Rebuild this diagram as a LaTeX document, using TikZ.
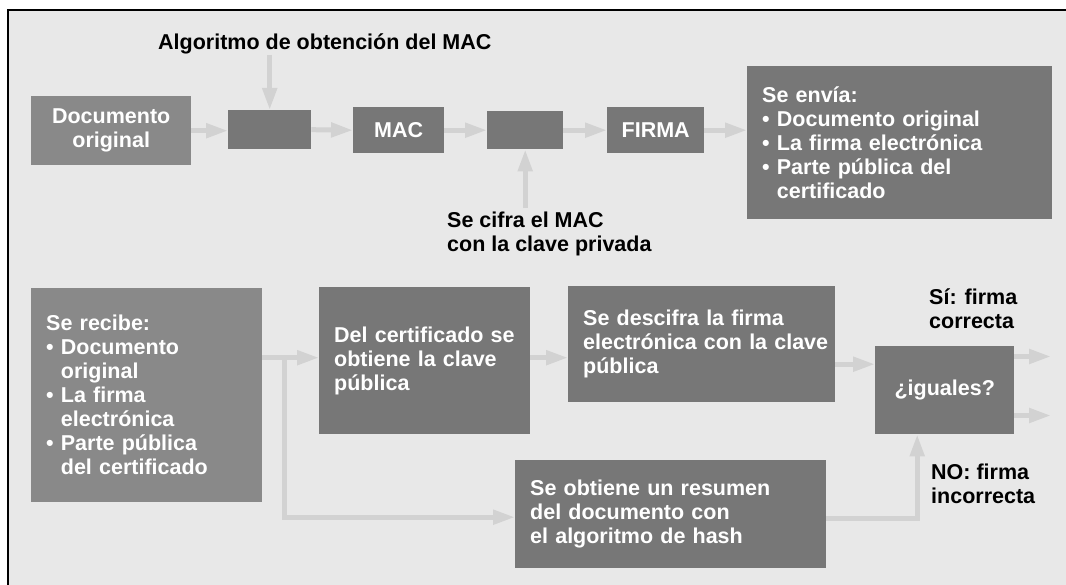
\documentclass[tikz,border=0pt]{standalone}
\usepackage{fontspec}
\setmainfont{Liberation Sans}
\usetikzlibrary{arrows.meta}
\definecolor{bgc}{HTML}{E8E8E8}
\definecolor{dboxc}{HTML}{777777}
\definecolor{lboxc}{HTML}{898989}
\definecolor{arrc}{HTML}{D2D2D2}
\newcommand\mybul{\textbullet\ }
\newcommand\myind{\hphantom{\textbullet\ }}
\begin{document}
\begin{tikzpicture}[x=1pt,y=-1pt,
  every node/.style={font=\bfseries\fontsize{21.5}{24}\selectfont},
  boxd/.style={fill=dboxc, draw=none, text=white, anchor=north west,
    inner ysep=0pt, inner xsep=15pt},
  boxl/.style={boxd, fill=lboxc},
  lbl/.style={text=black, anchor=base west, inner sep=0pt, align=left},
  conn/.style={draw=arrc, line width=5pt, -{Triangle[length=22pt,width=14pt]}},
]
\useasboundingbox (0,0) rectangle (1066,585);
\fill[bgc] (8,10) rectangle (1066,585);
\draw[black, line width=1.5pt] (8,585) -- (8,10) -- (1066,10);

% top row
\node[boxl, minimum width=160pt, minimum height=69pt, text width=130pt, align=center] (doc) at (31,96) {Documento\\original};
\node[boxd, minimum width=83pt, minimum height=39pt] (b2) at (228,110) {};
\node[boxd, minimum width=91pt, minimum height=46pt, inner xsep=0pt] (mac) at (353,107) {MAC};
\node[boxd, minimum width=76pt, minimum height=38pt] (b4) at (487,111) {};
\node[boxd, minimum width=97pt, minimum height=46pt, inner xsep=0pt] (firma) at (607,107) {FIRMA};
\node[boxd, minimum width=305pt, minimum height=153pt, text width=275pt, align=left] (envia) at (747,66)
  {Se envía:\\\mybul Documento original\\\mybul La firma electrónica\\\mybul Parte pública del\\\myind certificado};
\node[lbl] (alg) at (158,50) {Algoritmo de obtención del MAC};
\node[lbl, inner ysep=4pt] (cifra) at (447,252) {Se cifra el MAC\\con la clave privada};

% bottom part
\node[boxl, minimum width=231pt, minimum height=214pt, text width=201pt, align=left] (recibe) at (31,288)
  {Se recibe:\\\mybul Documento\\\myind original\\\mybul La firma\\\myind electrónica\\\mybul Parte pública\\\myind del certificado};
\node[boxd, minimum width=211pt, minimum height=147pt, text width=181pt, align=left] (cert) at (319,287)
  {\mbox{Del certificado se}\\obtiene la clave\\pública};
\node[boxd, minimum width=267pt, minimum height=116pt, text width=237pt, align=left] (descifra) at (568,286)
  {Se descifra la firma\\\mbox{electrónica con la clave}\\pública};
\node[boxd, minimum width=139pt, minimum height=88pt, inner xsep=0pt] (iguales) at (875,346) {¿iguales?};
\node[boxd, minimum width=311pt, minimum height=108pt, text width=281pt, align=left] (obtiene) at (515,460)
  {Se obtiene un resumen\\del documento con\\el algoritmo de hash};
\node[lbl] (si) at (929,329) {Sí: firma\\correcta};
\node[lbl] (no) at (931,503) {NO: firma\\incorrecta};

\coordinate (o1) at (1051,356.5);
\coordinate (o2) at (1051,415.5);

% connectors top
\draw[conn] (doc.east) -- (doc.east -| b2.west);
\draw[conn] (b2.east) -- (mac.west);
\draw[conn] (mac.east) -- (b4.west);
\draw[conn] (b4.east) -- (firma.west);
\draw[conn] (firma.east) -- (firma.east -| envia.west);
\draw[conn] (alg.south -| b2.north) -- (b2.north);
\draw[conn] (cifra.north -| b4.south) -- (b4.south);

% connectors bottom
\draw[conn] ([yshift=3pt]cert.west -| recibe.east) -- ([yshift=3pt]cert.west);
\path ([yshift=3pt]cert.west -| recibe.east) ++(22,0) coordinate (br);
\draw[conn] (br) |- ([yshift=-3pt]obtiene.west);
\draw[conn] ([yshift=3pt]cert.east) -- ([yshift=3pt]cert.east -| descifra.west);
\draw[conn] ([yshift=-20pt]descifra.east) -- ([yshift=-20pt]descifra.east -| iguales.west);
\draw[conn] ([yshift=-4pt]obtiene.east) -| ([xshift=-27.5pt]iguales.south);
\draw[conn] (o1 -| iguales.east) -- (o1);
\draw[conn] (o2 -| iguales.east) -- (o2);
\end{tikzpicture}
\end{document}
